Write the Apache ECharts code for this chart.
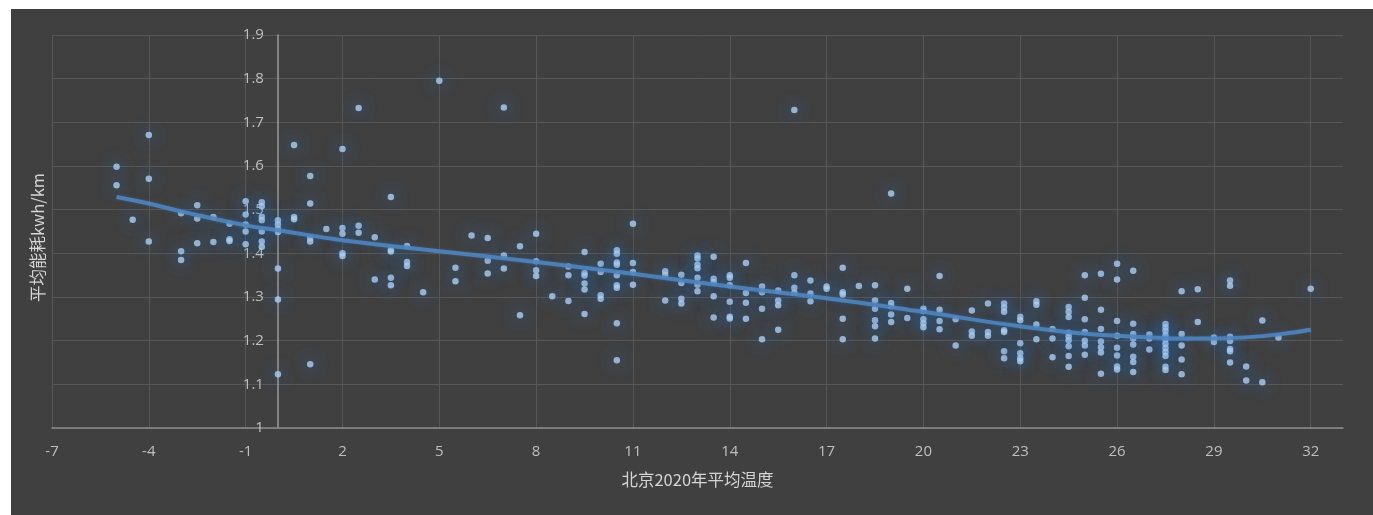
<!DOCTYPE html>
<html>
<head>
<meta charset="utf-8">
<title>平均能耗与温度</title>
<script src="https://cdn.jsdelivr.net/npm/echarts@6/dist/echarts.min.js"></script>
<style>
html, body { margin: 0; padding: 0; background: #ffffff; }
#chart {
  position: absolute;
  left: 11px;
  top: 9px;
  width: 1362px;
  height: 506px;
  background: #404040;
}
</style>
</head>
<body>
<div id="chart"></div>
<script>
// 北京2020年平均温度 (x)
const temps = [
  -5, -4.5, -4, -3, -2.5, -2, -1.5, -1, -0.5, 0, 0.5, 1, 1.5, 2, 2.5, 3, 3.5, 4, 4.5, 5,
  5.5, 6, 6.5, 7, 7.5, 8, 8.5, 9, 9.5, 10, 10.5, 11, 12, 12.5, 13, 13.5, 14, 14.5, 15, 15.5,
  16, 16.5, 17, 17.5, 18, 18.5, 19, 19.5, 20, 20.5, 21, 21.5, 22, 22.5, 23, 23.5, 24, 24.5, 25, 25.5,
  26, 26.5, 27, 27.5, 28, 28.5, 29, 29.5, 30, 30.5, 31, 32
];
// 平均能耗kwh/km，每个温度对应的日数据
const energyByTemp = [
  [1.598, 1.556],
  [1.477],
  [1.671, 1.571, 1.427],
  [1.492, 1.405, 1.385],
  [1.510, 1.480, 1.423],
  [1.483, 1.426],
  [1.468, 1.432, 1.428],
  [1.519, 1.489, 1.466, 1.450, 1.421],
  [1.517, 1.508, 1.484, 1.476, 1.450, 1.427, 1.415],
  [1.476, 1.466, 1.456, 1.449, 1.365, 1.294, 1.123],
  [1.648, 1.483, 1.478],
  [1.577, 1.514, 1.435, 1.427, 1.146],
  [1.456],
  [1.639, 1.458, 1.445, 1.400, 1.394],
  [1.733, 1.463, 1.447],
  [1.437, 1.340],
  [1.529, 1.408, 1.404, 1.344, 1.327],
  [1.417, 1.380, 1.371],
  [1.311],
  [1.795],
  [1.367, 1.336],
  [1.441],
  [1.435, 1.383, 1.354],
  [1.734, 1.395, 1.365],
  [1.416, 1.258],
  [1.445, 1.382, 1.361, 1.348],
  [1.302],
  [1.370, 1.350, 1.291],
  [1.403, 1.355, 1.349, 1.331, 1.317, 1.261],
  [1.376, 1.357, 1.304, 1.296],
  [1.407, 1.399, 1.379, 1.374, 1.350, 1.327, 1.321, 1.240, 1.155],
  [1.468, 1.378, 1.357, 1.328],
  [1.359, 1.351, 1.292],
  [1.351, 1.332, 1.296, 1.285],
  [1.395, 1.388, 1.374, 1.366, 1.344, 1.328, 1.313],
  [1.392, 1.342, 1.334, 1.302, 1.253],
  [1.350, 1.344, 1.327, 1.289, 1.255, 1.251],
  [1.378, 1.309, 1.287, 1.250],
  [1.324, 1.311, 1.273, 1.203],
  [1.315, 1.292, 1.281, 1.225],
  [1.728, 1.350, 1.321, 1.310],
  [1.338, 1.308, 1.290],
  [1.324, 1.319],
  [1.367, 1.311, 1.306, 1.250, 1.203],
  [1.325],
  [1.327, 1.292, 1.273, 1.247, 1.233, 1.205],
  [1.537, 1.286, 1.279, 1.260, 1.243],
  [1.319, 1.252],
  [1.273, 1.268, 1.249, 1.240, 1.231],
  [1.348, 1.271, 1.245, 1.226],
  [1.249, 1.189],
  [1.269, 1.221, 1.211],
  [1.285, 1.220, 1.211],
  [1.285, 1.276, 1.266, 1.224, 1.220, 1.176, 1.160],
  [1.255, 1.247, 1.194, 1.171, 1.160, 1.153],
  [1.290, 1.282, 1.237, 1.203],
  [1.227, 1.205, 1.162],
  [1.277, 1.266, 1.254, 1.218, 1.210, 1.201, 1.187, 1.165, 1.140],
  [1.350, 1.298, 1.249, 1.220, 1.200, 1.189, 1.168],
  [1.353, 1.271, 1.227, 1.198, 1.185, 1.173, 1.124],
  [1.376, 1.340, 1.245, 1.211, 1.184, 1.166, 1.141, 1.134],
  [1.360, 1.239, 1.215, 1.205, 1.191, 1.163, 1.151, 1.128],
  [1.214, 1.205, 1.180],
  [1.238, 1.230, 1.222, 1.212, 1.203, 1.193, 1.183, 1.174, 1.165, 1.140, 1.133],
  [1.313, 1.215, 1.189, 1.157, 1.123],
  [1.318, 1.243],
  [1.207, 1.197],
  [1.338, 1.326, 1.209, 1.199, 1.181, 1.176, 1.150],
  [1.141, 1.109],
  [1.246, 1.105],
  [1.207],
  [1.319]
];
// 趋势线
const trendX = [-5, -4, -3, -1, 0, 2, 5, 8, 11, 14, 17, 20, 23, 26, 29, 32];
const trendY = [1.529, 1.514, 1.496, 1.464, 1.453, 1.430, 1.405, 1.380, 1.353, 1.324, 1.297, 1.266, 1.233, 1.211, 1.205, 1.225];
// x轴刻度
const xTicks = [-7, -4, -1, 2, 5, 8, 11, 14, 17, 20, 23, 26, 29, 32];
const xMin = -7;
const xMax = 33;

const scatterData = [];
temps.forEach((t, i) => {
  energyByTemp[i].forEach(v => scatterData.push([t, v]));
});
const trendData = trendX.map((x, i) => [x, trendY[i]]);

const gridLeft = 41;
const gridRight = 30;
const chartDom = document.getElementById('chart');
// y轴放在 x=0 处（标签和名称随轴线移动）
const gridWidth = chartDom.clientWidth - gridLeft - gridRight;
const yAxisOffset = -gridWidth * (0 - xMin) / (xMax - xMin);

let myChart = echarts.init(chartDom);
const option = {
  animation: false,
  backgroundColor: '#404040',
  grid: { left: gridLeft, right: gridRight, top: 26, bottom: 87, containLabel: false, outerBoundsMode: 'none' },
  xAxis: {
    type: 'value',
    min: xMin,
    max: xMax,
    name: '北京2020年平均温度',
    nameLocation: 'middle',
    nameGap: 43,
    nameTextStyle: { color: '#d4d4d4', fontSize: 16.5, fontFamily: 'Noto Sans CJK SC' },
    axisLine: { show: true, onZero: false, lineStyle: { color: '#8c8c8c', width: 1.5 } },
    axisTick: { show: false, customValues: xTicks },
    axisLabel: { customValues: xTicks, color: '#bfbfbf', fontSize: 15, margin: 16, fontFamily: 'Open Sans' },
    splitLine: { show: true, lineStyle: { color: '#575757', width: 1 } }
  },
  yAxis: {
    type: 'value',
    min: 1,
    max: 1.9,
    interval: 0.1,
    offset: yAxisOffset,
    name: '平均能耗kwh/km',
    nameLocation: 'middle',
    nameGap: 232,
    nameTextStyle: { color: '#d4d4d4', fontSize: 16.5, fontFamily: 'Noto Sans CJK SC', padding: [0, 12, 0, 0] },
    axisLine: { show: true, onZero: false, lineStyle: { color: '#9a9a9a', width: 1.5 } },
    axisTick: { show: false },
    axisLabel: { color: '#bfbfbf', fontSize: 15, margin: 14, fontFamily: 'Open Sans' },
    splitLine: { show: true, lineStyle: { color: '#575757', width: 1 } }
  },
  series: [
    {
      name: '平均能耗',
      type: 'scatter',
      symbolSize: 6.5,
      data: scatterData,
      itemStyle: {
        color: '#acd0f2',
        shadowBlur: 15,
        shadowColor: 'rgba(35, 130, 235, 1)'
      }
    },
    {
      name: '趋势线',
      type: 'line',
      smooth: 0.5,
      showSymbol: false,
      data: trendData,
      z: 5,
      lineStyle: {
        color: '#5285bd',
        width: 4,
        opacity: 0.88,
        shadowBlur: 3,
        shadowColor: 'rgba(46, 117, 182, 0.6)'
      }
    }
  ]
};
myChart.setOption(option);
window.addEventListener('resize', () => {
  myChart.resize();
});
</script>
</body>
</html>
